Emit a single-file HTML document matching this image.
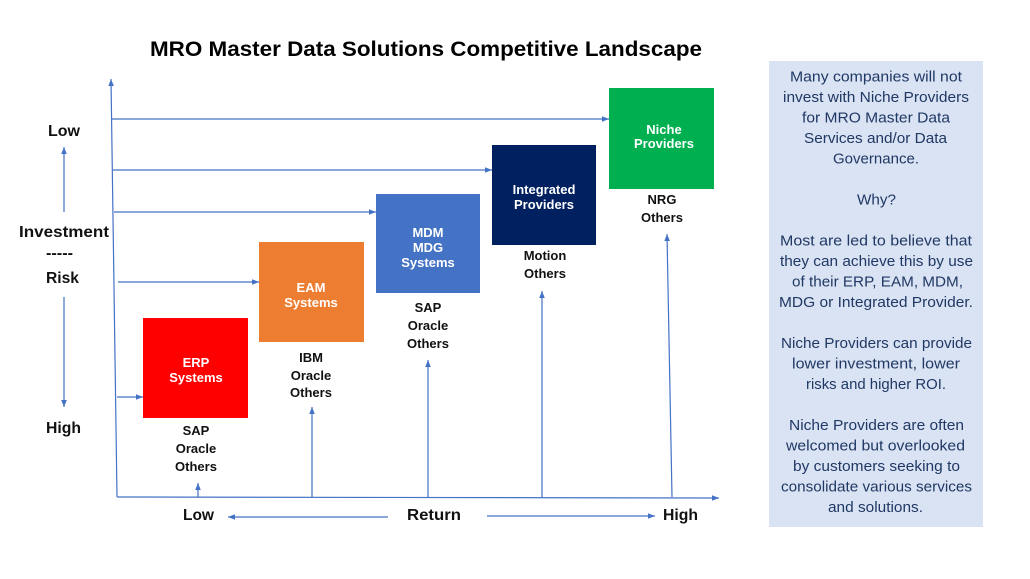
<!DOCTYPE html>
<html>
<head>
<meta charset="utf-8">
<style>
  html, body { margin: 0; padding: 0; background: #fff; }
  svg { display: block; }
  text { font-family: "Liberation Sans", Arial, sans-serif; }
</style>
</head>
<body>
<svg width="1030" height="579" viewBox="0 0 1030 579" xmlns="http://www.w3.org/2000/svg">
  <defs>
    <marker id="a" viewBox="0 0 10 10" refX="10" refY="5" markerWidth="7" markerHeight="7" markerUnits="userSpaceOnUse" orient="auto">
      <path d="M0,1 L10,5 L0,9 z" fill="#4472C4"/>
    </marker>
  </defs>
  <rect x="0" y="0" width="1030" height="579" fill="#ffffff"/>

  <!-- Title -->
  <text x="150" y="56" font-size="21" font-weight="bold" fill="#000" textLength="552" lengthAdjust="spacingAndGlyphs">MRO Master Data Solutions Competitive Landscape</text>

  <!-- Lines -->
  <g stroke="#4472C4" stroke-width="1.2" fill="none">
    <path d="M117,497 L111,79" marker-end="url(#a)"/>
    <path d="M117,497 L719,498" marker-end="url(#a)"/>
    <path d="M111,119 L609,119" marker-end="url(#a)"/>
    <path d="M113,170 L492,170" marker-end="url(#a)"/>
    <path d="M114,212 L376,212" marker-end="url(#a)"/>
    <path d="M118,282 L259,282" marker-end="url(#a)"/>
    <path d="M117,397 L143,397" marker-end="url(#a)"/>
    <path d="M198,497 L198,483" marker-end="url(#a)"/>
    <path d="M312,497 L312,407" marker-end="url(#a)"/>
    <path d="M428,497 L428,360" marker-end="url(#a)"/>
    <path d="M542,497 L542,291" marker-end="url(#a)"/>
    <path d="M672,497 L667,234" marker-end="url(#a)"/>
    <path d="M64,212 L64,147" marker-end="url(#a)"/>
    <path d="M64,297 L64,407" marker-end="url(#a)"/>
    <path d="M388,517 L228,517" marker-end="url(#a)"/>
    <path d="M487,516 L655,516" marker-end="url(#a)"/>
  </g>

  <!-- Boxes -->
  <rect x="143" y="318" width="105" height="100" fill="#FF0000"/>
  <rect x="259" y="242" width="105" height="100" fill="#ED7D31"/>
  <rect x="376" y="194" width="104" height="99" fill="#4472C4"/>
  <rect x="492" y="145" width="104" height="100" fill="#002060"/>
  <rect x="609" y="88" width="105" height="101" fill="#00B050"/>

  <!-- Box labels -->
  <g font-size="13" font-weight="bold" fill="#ffffff" text-anchor="middle">
    <text x="196" y="367">ERP</text>
    <text x="196" y="382">Systems</text>
    <text x="311" y="292">EAM</text>
    <text x="311" y="307">Systems</text>
    <text x="428" y="237">MDM</text>
    <text x="428" y="252">MDG</text>
    <text x="428" y="267">Systems</text>
    <text x="544" y="194">Integrated</text>
    <text x="544" y="209">Providers</text>
    <text x="664" y="134">Niche</text>
    <text x="664" y="148">Providers</text>
  </g>

  <!-- Vendor labels -->
  <g font-size="13" font-weight="bold" fill="#111" text-anchor="middle">
    <text x="196" y="435">SAP</text>
    <text x="196" y="453">Oracle</text>
    <text x="196" y="471">Others</text>
    <text x="311" y="362">IBM</text>
    <text x="311" y="380">Oracle</text>
    <text x="311" y="397">Others</text>
    <text x="428" y="312">SAP</text>
    <text x="428" y="330">Oracle</text>
    <text x="428" y="348">Others</text>
    <text x="545" y="260">Motion</text>
    <text x="545" y="278">Others</text>
    <text x="662" y="204">NRG</text>
    <text x="662" y="222">Others</text>
  </g>

  <!-- Axis labels -->
  <g font-size="16" font-weight="bold" fill="#111">
    <text x="48" y="136" textLength="32" lengthAdjust="spacingAndGlyphs">Low</text>
    <text x="19" y="237" textLength="90" lengthAdjust="spacingAndGlyphs">Investment</text>
    <text x="46" y="258" textLength="27" lengthAdjust="spacingAndGlyphs">-----</text>
    <text x="46" y="283" textLength="33" lengthAdjust="spacingAndGlyphs">Risk</text>
    <text x="46" y="433" textLength="35" lengthAdjust="spacingAndGlyphs">High</text>
    <text x="183" y="520" textLength="31" lengthAdjust="spacingAndGlyphs">Low</text>
    <text x="407" y="520" textLength="54" lengthAdjust="spacingAndGlyphs">Return</text>
    <text x="663" y="520" textLength="35" lengthAdjust="spacingAndGlyphs">High</text>
  </g>

  <!-- Right panel -->
  <rect x="769" y="61" width="214" height="466" fill="#DAE3F3"/>
  <g font-size="15" fill="#1F3864">
    <text x="790" y="81.5" textLength="172" lengthAdjust="spacingAndGlyphs">Many companies will not</text>
    <text x="783" y="102" textLength="186" lengthAdjust="spacingAndGlyphs">invest with Niche Providers</text>
    <text x="802" y="122.5" textLength="148" lengthAdjust="spacingAndGlyphs">for MRO Master Data</text>
    <text x="804" y="143" textLength="143" lengthAdjust="spacingAndGlyphs">Services and/or Data</text>
    <text x="833" y="163.5" textLength="86" lengthAdjust="spacingAndGlyphs">Governance.</text>
    <text x="857" y="204.5" textLength="39" lengthAdjust="spacingAndGlyphs">Why?</text>
    <text x="780" y="245.5" textLength="192" lengthAdjust="spacingAndGlyphs">Most are led to believe that</text>
    <text x="780" y="266" textLength="193" lengthAdjust="spacingAndGlyphs">they can achieve this by use</text>
    <text x="792" y="286.5" textLength="171" lengthAdjust="spacingAndGlyphs">of their ERP, EAM, MDM,</text>
    <text x="779" y="307" textLength="194" lengthAdjust="spacingAndGlyphs">MDG or Integrated Provider.</text>
    <text x="781" y="348" textLength="191" lengthAdjust="spacingAndGlyphs">Niche Providers can provide</text>
    <text x="792" y="368.5" textLength="168" lengthAdjust="spacingAndGlyphs">lower investment, lower</text>
    <text x="806" y="389" textLength="140" lengthAdjust="spacingAndGlyphs">risks and higher ROI.</text>
    <text x="789" y="430" textLength="175" lengthAdjust="spacingAndGlyphs">Niche Providers are often</text>
    <text x="786" y="450.5" textLength="179" lengthAdjust="spacingAndGlyphs">welcomed but overlooked</text>
    <text x="793" y="471" textLength="167" lengthAdjust="spacingAndGlyphs">by customers seeking to</text>
    <text x="781" y="491.5" textLength="191" lengthAdjust="spacingAndGlyphs">consolidate various services</text>
    <text x="828" y="512" textLength="95" lengthAdjust="spacingAndGlyphs">and solutions.</text>
  </g>
</svg>
</body>
</html>
